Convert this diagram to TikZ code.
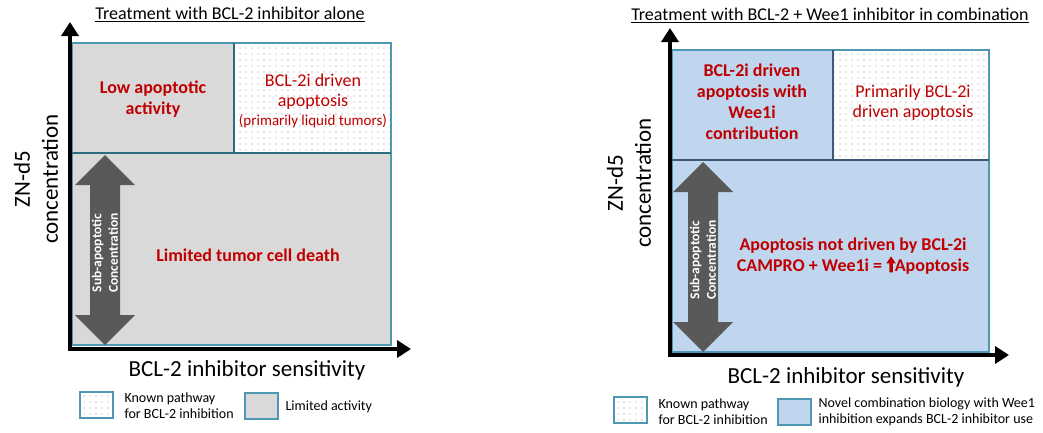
\documentclass[tikz,border=0pt]{standalone}
\usepackage{fontspec}
\setmainfont{Carlito}
\usepackage{tikz}
\usetikzlibrary{arrows.meta}
\usetikzlibrary{patterns.meta}
\usetikzlibrary{positioning}
\definecolor{limgray}{HTML}{D9D9D9}
\definecolor{comboblue}{HTML}{BFD6EE}
\definecolor{boxteal}{HTML}{4F98B4}
\definecolor{divteal}{HTML}{2E6A80}
\definecolor{divslate}{HTML}{3C5A78}
\definecolor{dotgray}{HTML}{9A9A9A}
\definecolor{redtext}{HTML}{C00000}
\definecolor{arrowgray}{HTML}{595959}
\tikzset{
    panelbox/.style={draw=boxteal, line width=1.1pt, inner sep=0pt, outer sep=0pt},
    limitcell/.style={panelbox, fill=limgray},
    combocell/.style={panelbox, fill=comboblue},
    knowncell/.style={panelbox, pattern={Dots[distance=6pt, radius=0.6pt]}, pattern color=dotgray},
    axis/.style={line width=4.5pt, -{Triangle[width=17pt,length=14pt]}},
    divider/.style={line width=2.4pt},
    headline/.style={font=\fontsize{18}{21}\selectfont},
    axislabel/.style={font=\fontsize{23}{28}\selectfont, align=center},
    redbold/.style={text=redtext, font=\bfseries\fontsize{18}{21}\selectfont, align=center},
    redplain/.style={text=redtext, font=\fontsize{18}{20}\selectfont, align=center},
    subtext/.style={text=white, font=\bfseries\fontsize{13.5}{16.5}\selectfont, align=center, rotate=90},
    subarrow/.style={fill=arrowgray},
    legendbox/.style={minimum width=33pt, minimum height=26pt, anchor=north west},
    legendtext/.style={font=\fontsize{14}{16}\selectfont, align=left, anchor=west},
}

\begin{document}
\begin{tikzpicture}[x=1pt, y=-1pt]
    \useasboundingbox[fill=white] (0,0) rectangle (1043,432);
    % left: BCL-2 inhibitor alone
    \node[headline] (ltitle) at (230,14) {\underline{Treatment with BCL-2 inhibitor alone}};
    \node[limitcell, minimum width=162pt, minimum height=110pt, anchor=north west] (llow) at (72,43) {};
    \node[knowncell, minimum width=157pt, minimum height=110pt, anchor=north west] (lknown) at (234,43) {};
    \node[limitcell, minimum width=319pt, minimum height=192pt, anchor=north west] (lbase) at (72,153) {};
    \draw[divider, draw=divteal] (llow.north east) -- (llow.south east);
    \draw[divider, draw=divteal] (lbase.north west) -- (lbase.north east);
    \node[redbold] (llowtxt) at (153,99) {Low apoptotic\\activity};
    \node[redplain] (lknowntxt) at (313,101) {BCL-2i driven\\apoptosis\\[-1pt]{\fontsize{15}{17}\selectfont(primarily liquid tumors)}};
    \node[redbold] (lbasetxt) at (248,255) {Limited tumor cell death};
    \fill[subarrow] (105,155) -- (135,185) -- (120,185) -- (120,315) -- (135,315) -- (105,345)
        -- (75,315) -- (90,315) -- (90,185) -- (75,185) -- cycle;
    \node[subtext] (lsub) at (105,253) {Sub-apoptotic\\Concentration};
    \coordinate (lorig) at (70,351);
    \coordinate (lytip) at (70,22);
    \coordinate (lxtip) at (411,349);
    \draw[axis] (lorig) -- (lytip);
    \draw[axis] (68,349) -- (lxtip);
    \node[axislabel, rotate=90] (lylabel) at (36,179) {ZN-d5\\concentration};
    \node[axislabel] (lxlabel) at (247,370) {BCL-2 inhibitor sensitivity};
    \node[knowncell, legendbox] (lkey1) at (80,392) {};
    \node[legendtext] (lkey1txt) at (121,406) {Known pathway\\for BCL-2 inhibition};
    \node[limitcell, legendbox] (lkey2) at (245,393) {};
    \node[legendtext] (lkey2txt) at (282,407) {Limited activity};

    % right: BCL-2 + Wee1 inhibitor
    \node[headline] (rtitle) at (830,15) {\underline{Treatment with BCL-2 + Wee1 inhibitor in combination}};
    \node[combocell, minimum width=161pt, minimum height=110pt, anchor=north west] (rboost) at (672,50) {};
    \node[knowncell, minimum width=156pt, minimum height=110pt, anchor=north west] (rknown) at (833,50) {};
    \node[combocell, minimum width=317pt, minimum height=192pt, anchor=north west] (rbase) at (672,160) {};
    \draw[divider, draw=divslate] (rboost.north east) -- (rboost.south east);
    \draw[divider, draw=divslate] (rbase.north west) -- (rbase.north east);
    \node[redbold] (rboosttxt) at (752,102) {BCL-2i driven\\apoptosis with\\Wee1i\\contribution};
    \node[redplain] (rknowntxt) at (913,103) {Primarily BCL-2i\\driven apoptosis};
    \node[redbold] (rbasetxt) at (853,256) {Apoptosis not driven by BCL-2i\\CAMPRO + Wee1i =
        \tikz[baseline=0pt]\fill[redtext] (3pt,-1pt) rectangle (6.5pt,8.5pt) (0pt,8pt) -- (4.75pt,15pt) -- (9.5pt,8pt) -- cycle;\hspace{-1pt}Apoptosis};
    \fill[subarrow] (703,162) -- (733,192) -- (718,192) -- (718,322) -- (733,322) -- (703,352)
        -- (673,322) -- (688,322) -- (688,192) -- (673,192) -- cycle;
    \node[subtext] (rsub) at (703,260) {Sub-apoptotic\\Concentration};
    \coordinate (rorig) at (670,357);
    \coordinate (rytip) at (670,28);
    \coordinate (rxtip) at (1009,355);
    \draw[axis] (rorig) -- (rytip);
    \draw[axis] (668,355) -- (rxtip);
    \node[axislabel, rotate=90] (rylabel) at (629,183) {ZN-d5\\concentration};
    \node[axislabel] (rxlabel) at (846,377) {BCL-2 inhibitor sensitivity};
    \node[knowncell, legendbox] (rkey1) at (614,397) {};
    \node[legendtext] (rkey1txt) at (655,412) {Known pathway\\for BCL-2 inhibition};
    \node[combocell, legendbox] (rkey2) at (778,399) {};
    \node[legendtext] (rkey2txt) at (815,412) {Novel combination biology with Wee1\\inhibition expands BCL-2 inhibitor use};
\end{tikzpicture}
\end{document}
